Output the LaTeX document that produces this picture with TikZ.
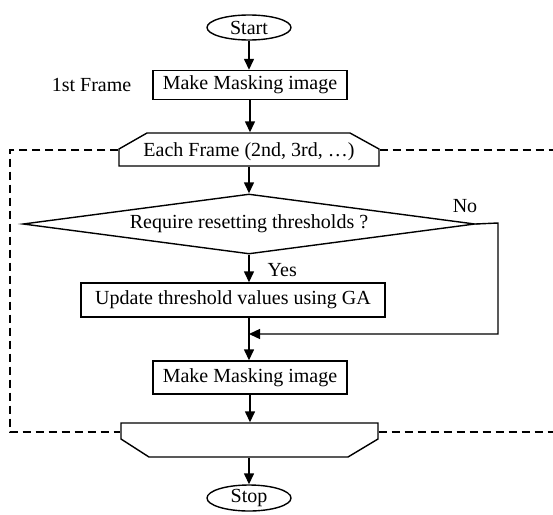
\documentclass[tikz,border=0pt]{standalone}
\usepackage{fontspec}
\setmainfont{Liberation Serif}
\usetikzlibrary{arrows.meta,shapes.geometric}
\begin{document}
\begin{tikzpicture}[x=1pt,y=-1pt,
  font=\fontsize{20}{24}\selectfont,
  line width=1.4pt,
  >={Triangle[length=11pt,width=10pt]},
  term/.style={draw,ellipse,inner sep=0pt,minimum width=84pt,minimum height=25pt},
  proc/.style={draw,rectangle,inner sep=0pt},
  loopbox/.style={rectangle,inner sep=0pt},
  lbl/.style={inner sep=0pt},
  frame/.style={dash pattern=on 8pt off 5pt}]
\useasboundingbox (0,0) rectangle (553,514);
\node[term] (start) at (249,27.5) {Start};
\node[proc,minimum width=194pt,minimum height=29pt] (mask1) at (250,85) {Make Masking image};
\node[lbl,anchor=east] (first) at (132,85) {1st Frame};
% loop start
\node[loopbox,minimum width=260pt,minimum height=33pt] (loopA) at (249,149.5) {};
\draw (119,166) -- (119,149) -- (147,133) -- (350,133) -- (379,149) -- (379,166) -- cycle;
\node[lbl] (loopAtext) at (249,152) {Each Frame (2nd, 3rd, …)};
% decision
\node[diamond,draw,aspect=7.5,inner sep=0pt,minimum width=452pt,minimum height=60pt] (dia) at (249,224) {Require resetting thresholds ?};
\node[lbl,anchor=west] (yes) at (267,270) {Yes};
\node[lbl] (no) at (465,206) {No};
\node[proc,minimum width=304pt,minimum height=34pt] (upd) at (233,300) {Update threshold values using GA};
\coordinate (join) at (249,334);
\coordinate (nocorner) at (498,223);
\node[proc,minimum width=194pt,minimum height=33pt] (mask2) at (250,377.5) {Make Masking image};
% loop end
\node[loopbox,minimum width=257pt,minimum height=34pt] (loopB) at (249.5,440) {};
\draw (121,423) -- (378,423) -- (378,439) -- (348,457) -- (149,457) -- (121,439) -- cycle;
\node[term,minimum height=26pt] (stop) at (249,498) {Stop};
% dashed frame
\coordinate (fl1) at (10,150);
\coordinate (fl2) at (10,432);
\coordinate (fr1) at (553,150);
\coordinate (fr2) at (553,432);
\draw[frame] (fl1 -| loopA.west) -- (fl1) -- (fl2) -- (fl2 -| loopB.west);
\draw[frame] (fr1 -| loopA.east) -- (fr1);
\draw[frame] (fr2 -| loopB.east) -- (fr2);
% connectors
\draw[->] (start) -- (start |- mask1.north);
\draw[->] (mask1) -- (mask1 |- loopA.north);
\draw[->] (loopA.south -| dia.north) -- (dia.north);
\draw[->] (dia.south) -- (dia.south |- upd.north);
\draw[->] (dia.south |- upd.south) -- (dia.south |- mask2.north);
\draw[->] (dia.east) -- (nocorner) -- (nocorner |- join) -- (join);
\draw[->] (mask2) -- (mask2 |- loopB.north);
\draw[->] (loopB.south -| stop.north) -- (stop.north);
\end{tikzpicture}
\end{document}
